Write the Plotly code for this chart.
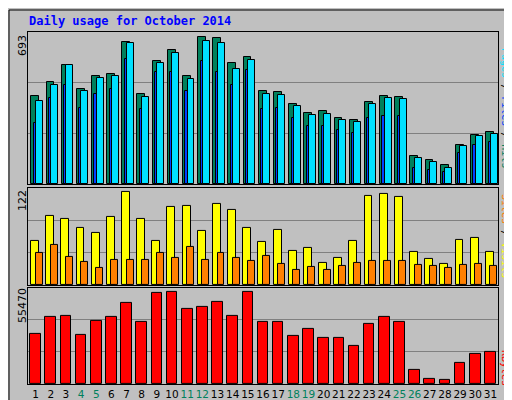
import plotly.graph_objects as go

days = list(range(1, 32))
weekends = [4, 5, 11, 12, 18, 19, 25, 26]

hits = [401, 464, 541, 432, 491, 500, 647, 409, 559, 609, 491, 669, 664, 550, 578, 423,
        419, 365, 324, 333, 301, 292, 374, 401, 397, 128, 109, 87, 178, 223, 237]
files = [378, 453, 541, 423, 482, 491, 641, 395, 550, 596, 477, 651, 641, 523, 564, 409,
         406, 356, 315, 319, 292, 283, 365, 392, 388, 119, 100, 73, 173, 219, 228]
pages = [278, 392, 451, 346, 410, 433, 570, 342, 511, 511, 424, 561, 511, 451, 520, 342,
         346, 301, 264, 264, 246, 233, 301, 310, 310, 73, 64, 55, 141, 178, 191]
visits = [55, 87, 83, 72, 65, 85, 117, 83, 55, 98, 99, 68, 102, 94, 72, 54,
          69, 43, 47, 28, 34, 56, 112, 114, 111, 42, 33, 27, 57, 59, 42]
sites = [40, 51, 35, 29, 22, 32, 32, 31, 40, 34, 48, 31, 41, 34, 30, 36,
         27, 19, 23, 19, 24, 28, 30, 30, 30, 25, 24, 21, 25, 27, 24]
kbytes = [28930, 38890, 39480, 28350, 36550, 38890, 47090, 35960, 52950, 53530, 43580,
          44750, 47680, 39480, 53530, 35960, 36140, 27940, 32040, 26770, 26770, 22080,
          34970, 39070, 36140, 8020, 2750, 2170, 12120, 17400, 18570]

line = dict(color="black", width=1)


def bar(y, color, offset, width, axis):
    return go.Bar(x=days, y=y, offset=offset, width=width, marker=dict(color=color, line=line),
                  xaxis="x" + axis, yaxis="y" + axis, showlegend=False, hoverinfo="y")


fig = go.Figure()
fig.add_trace(bar(hits, "#00805c", -0.28, 0.52, ""))
fig.add_trace(bar(pages, "#0040ff", -0.12, 0.16, ""))
fig.add_trace(bar(files, "#00e0ff", 0.02, 0.46, ""))
fig.add_trace(bar(visits, "#ffff00", -0.3, 0.52, "2"))
fig.add_trace(bar(sites, "#ff8000", 0.0, 0.46, "2"))
fig.add_trace(bar(kbytes, "#ff0000", -0.35, 0.7, "3"))

ticktext = [f"<span style='color:#00805c'>{d}</span>" if d in weekends else str(d) for d in days]

xbase = dict(range=[0.5, 31.5], showgrid=False, zeroline=False, showline=True, mirror=True,
             linecolor="black", linewidth=1, ticks="", automargin=False)
ybase = dict(showline=True, mirror=True, linecolor="black", linewidth=1, zeroline=False,
             gridcolor="#808080", showticklabels=False, ticks="", automargin=False)

fig.update_layout(
    width=512, height=400,
    margin=dict(l=20, r=22, t=24, b=24, autoexpand=False),
    paper_bgcolor="#c0c0c0", plot_bgcolor="#c0c0c0",
    bargap=0, barmode="overlay",
    font=dict(family="DejaVu Sans", size=11, color="black"),
    xaxis=dict(xbase, anchor="y", showticklabels=False),
    xaxis2=dict(xbase, anchor="y2", showticklabels=False, matches="x"),
    xaxis3=dict(xbase, anchor="y3", tickvals=days, ticktext=ticktext, tickangle=0,
                tickfont=dict(size=10.5), matches="x"),
    yaxis=dict(ybase, domain=[0.568, 1], range=[0, 693], tickvals=[231, 462]),
    yaxis2=dict(ybase, domain=[0.281, 0.557], range=[0, 122], tickvals=[40.7, 81.3]),
    yaxis3=dict(ybase, domain=[0, 0.273], range=[0, 56000], tickvals=[18667, 37333]),
)

ann = [
    dict(text="<b>Daily usage for October 2014</b>", x=19, y=13, xanchor="left",
         font=dict(family="DejaVu Sans Mono", size=12, color="#0000ff")),
    dict(text="693", x=14, y=38, textangle=-90),
    dict(text="122", x=14, y=193, textangle=-90),
    dict(text="55470", x=14, y=298, textangle=-90),
    dict(text="<span style='color:#00e0ff'>Pages</span> / <span style='color:#0040ff'>Files</span> / <span style='color:#00805c'>Hits</span>",
         x=498, y=100, textangle=90, font=dict(family="DejaVu Sans Mono", size=10)),
    dict(text="<span style='color:#ff8000'>Sites</span> / <span style='color:#ffff00'>Visits</span>",
         x=498, y=228, textangle=90, font=dict(family="DejaVu Sans Mono", size=10)),
    dict(text="<span style='color:#ff0000'>KBytes</span>",
         x=498, y=360, textangle=90, font=dict(family="DejaVu Sans Mono", size=10)),
]
for a in ann:
    px, py = a.pop("x"), a.pop("y")
    a.setdefault("xanchor", "center")
    fig.add_annotation(a, xref="paper", yref="paper", showarrow=False,
                       x=(px - 20) / 470, y=(376 - py) / 352, yanchor="middle")

# window frame
fig.add_shape(type="rect", xref="paper", yref="paper", x0=-19 / 470, x1=490 / 470,
              y0=-22 / 352, y1=374 / 352, line=dict(color="black", width=1))

fig.write_html("out.html")
